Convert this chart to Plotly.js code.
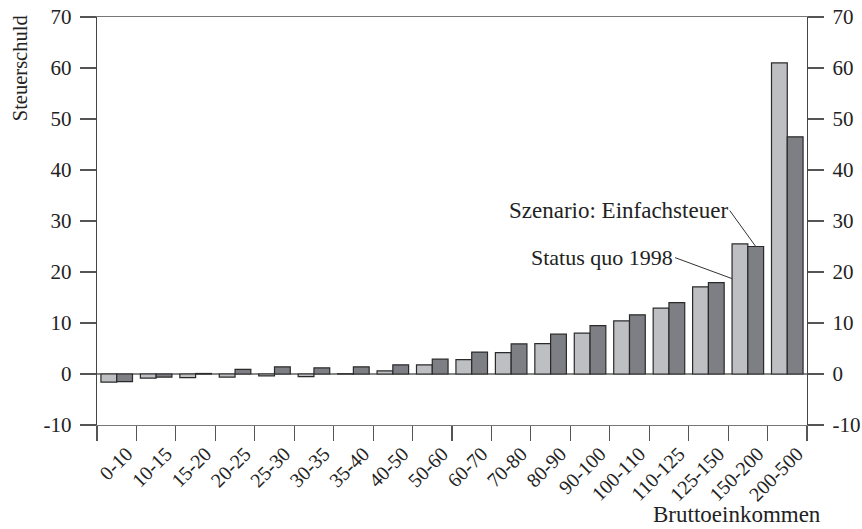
<!DOCTYPE html>
<html><head><meta charset="utf-8">
<script src="https://cdn.plot.ly/plotly-3.0.1.min.js"></script>
<style>html,body{margin:0;padding:0;background:#fff}#chart{width:862px;height:529px}</style>
</head><body><div id="chart"></div>
<script>
const categories = ["0-10","10-15","15-20","20-25","25-30","30-35","35-40","40-50","50-60","60-70","70-80","80-90","90-100","100-110","110-125","125-150","150-200","200-500"];
const statusQuo1998 = [-1.6,-0.8,-0.7,-0.6,-0.35,-0.5,0.05,0.6,1.8,2.8,4.2,5.95,8.0,10.4,12.9,17.1,25.5,61.0];
const einfachsteuer = [-1.5,-0.6,0.1,0.9,1.4,1.2,1.4,1.8,2.9,4.3,5.9,7.8,9.5,11.6,14.0,17.9,25.0,46.5];
const yTicks = [-10,0,10,20,30,40,50,60,70];
const yTickText = ["-10","0","10","20","30","40","50","60","70"];
const seriesNames = ["Status quo 1998","Szenario: Einfachsteuer"];

const font = "Liberation Serif, Times New Roman, serif";
const txt = "#222";

const traces = [
  {type:"bar", x:categories, y:statusQuo1998, name:seriesNames[0],
   marker:{color:"#bebfc3", line:{color:"#2a2a2a", width:1.2}}},
  {type:"bar", x:categories, y:einfachsteuer, name:seriesNames[1],
   marker:{color:"#7e7f84", line:{color:"#2a2a2a", width:1.2}}},
  {type:"scatter", x:[], y:[], yaxis:"y2", showlegend:false, hoverinfo:"skip"}
];

const yax = {
  range:[-10,70], tickvals:yTicks, ticktext:yTickText, ticks:"outside", ticklen:16, tickwidth:1.2, tickcolor:"#555",
  showline:true, linecolor:"#444", linewidth:1.2, showgrid:false,
  zeroline:true, zerolinecolor:"#888", zerolinewidth:1.6,
  tickfont:{family:font, size:21, color:txt}, ticklabelstandoff:4, fixedrange:true
};

const layout = {
  width:862, height:529,
  margin:{l:97, r:55, t:17, b:104},
  paper_bgcolor:"#fff", plot_bgcolor:"#fff",
  showlegend:false, barmode:"group", bargap:0.2, bargroupgap:0,
  font:{family:font, size:21, color:txt},
  xaxis:{type:"category", tickson:"boundaries", ticks:"outside", ticklen:15, tickwidth:1.2, tickcolor:"#555",
         showline:true, mirror:true, linecolor:"#777", linewidth:1.4, showgrid:false, tickangle:-45,
         ticklabelshift:10, ticklabelstandoff:8,
         tickfont:{family:font, size:20, color:txt}, anchor:"y"},
  yaxis: yax,
  yaxis2: Object.assign({}, yax, {overlaying:"y", side:"right", anchor:"x", zeroline:false}),
  annotations:[
    {xref:"paper", yref:"paper", x:-0.108, y:1.01, xanchor:"center", yanchor:"top",
     text:"Steuerschuld", textangle:-90, showarrow:false, font:{family:font, size:20.5, color:txt}},
    {xref:"paper", yref:"paper", x:1.0225, y:-0.22, xanchor:"right", yanchor:"middle",
     text:"Bruttoeinkommen", showarrow:false, font:{family:font, size:23, color:txt}},
    {xref:"x", yref:"y", x:15.6, y:18.7, text:"Status quo 1998", showarrow:true, arrowhead:0,
     arrowwidth:1, arrowcolor:"#333", ax:-57, ay:-21, xanchor:"right", yanchor:"middle",
     font:{family:font, size:22, color:txt}},
    {xref:"x", yref:"y", x:16.2, y:25, text:"Szenario: Einfachsteuer", showarrow:true, arrowhead:0,
     arrowwidth:1, arrowcolor:"#333", ax:-26, ay:-36, xanchor:"right", yanchor:"middle",
     font:{family:font, size:23, color:txt}}
  ]
};

Plotly.newPlot("chart", traces, layout, {staticPlot:true, displayModeBar:false});
</script>
</body></html>
